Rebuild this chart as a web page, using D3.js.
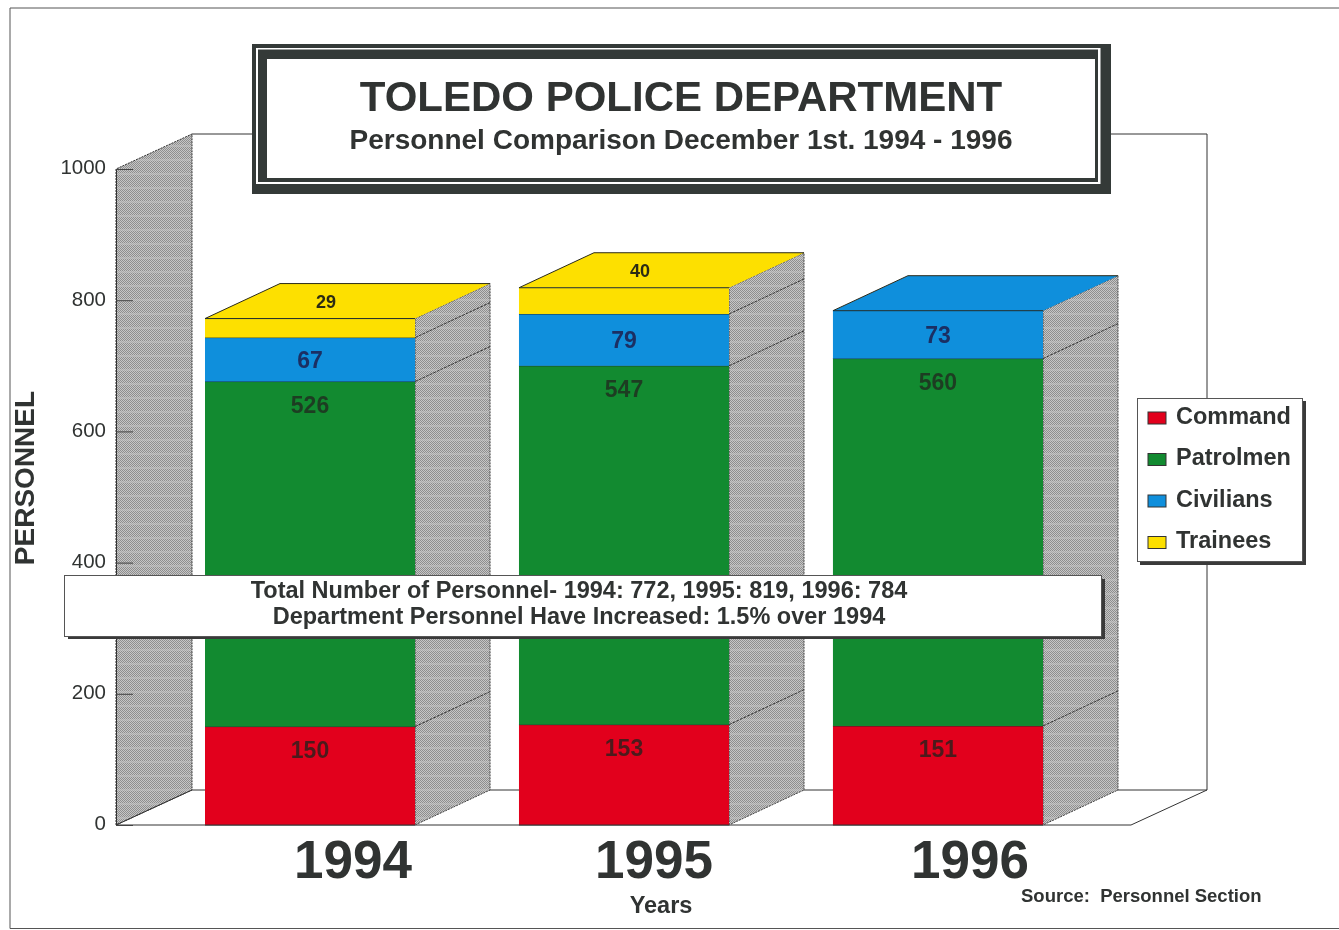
<!DOCTYPE html>
<html>
<head>
<meta charset="utf-8">
<title>Toledo Police Department</title>
<script src="https://cdn.jsdelivr.net/npm/d3@7/dist/d3.min.js"></script>
<style>
	html, body { margin: 0; padding: 0; background: #fff; }
	svg { display: block; filter: blur(0.5px); font-family: "Liberation Sans", Arial, sans-serif; }
	.bold { font-weight: bold; }
</style>
</head>
<body>
<div id="chart"></div>
<script>
const years = ["1994", "1995", "1996"];
const seriesNames = ["Command", "Patrolmen", "Civilians", "Trainees"];
const command = [150, 153, 151];
const patrolmen = [526, 547, 560];
const civilians = [67, 79, 73];
const trainees = [29, 40, 0];
const yTicks = [0, 200, 400, 600, 800, 1000];

const colors = {
	Command: "#e2001c",
	Patrolmen: "#128a30",
	Civilians: "#0f8fdc",
	Trainees: "#fde000",
};
const labelColors = {
	Command: "#4c1a1c",
	Patrolmen: "#1d3d22",
	Civilians: "#1b2f63",
	Trainees: "#2b2b14",
};
const ink = "#303332";

const width = 1339;
const height = 930;
const wallDepthX = 76;
const barDepthX = 75;
const depthY = -35;
// the big year labels sit right of the bars in the original
const yearOffsets = [43, 30, 32];

const svg = d3.select("#chart").append("svg").attr("width", width).attr("height", height);

const y = d3.scaleLinear().domain([0, 1000]).range([825, 169]);
const x = d3.scaleBand().domain(years).range([205, 1043]).paddingInner(0.331);
const legendY = d3.scalePoint().domain(seriesNames).range([416, 540.5]);

const valuesBySeries = { Command: command, Patrolmen: patrolmen, Civilians: civilians, Trainees: trainees };
const stack = d3.stack().keys(seriesNames).value((d, key) => valuesBySeries[key][years.indexOf(d)]);
const stacked = stack(years);

// halftone grey of the scan, with the faint horizontal banding
const defs = svg.append("defs");
const stipple = defs.append("pattern").attr("id", "stipple").attr("width", 2).attr("height", 14).attr("patternUnits", "userSpaceOnUse");
stipple.append("rect").attr("width", 2).attr("height", 14).attr("fill", "#c6c6c6");
d3.range(0, 14).forEach((row) => {
	stipple.append("rect")
		.attr("x", row % 2).attr("y", row).attr("width", 1).attr("height", 1)
		.attr("fill", row === 5 || row === 6 ? "#a8a8a8" : "#8e8e8e");
});

const poly = (pts) => "M" + pts.map((p) => p.join(",")).join("L") + "Z";
const line = (pts) => "M" + pts.map((p) => p.join(",")).join("L");

// page frame, the scan cuts off the right side
svg.append("path")
	.attr("d", line([[1339, 8], [10, 8], [10, 928.5], [1339, 928.5]]))
	.attr("fill", "none").attr("stroke", "#555").attr("stroke-width", 1);

// walls and floor
const wallLeft = 116;
const wallRight = 1131;
const y0 = y(0);
const yTop = y(1000);

svg.append("path")
	.attr("d", poly([[wallLeft, y0], [wallLeft, yTop], [wallLeft + wallDepthX, yTop + depthY], [wallLeft + wallDepthX, y0 + depthY]]))
	.attr("fill", "url(#stipple)")
	.attr("stroke", "#333").attr("stroke-dasharray", "2,1");

svg.append("path")
	.attr("d", line([[wallLeft + wallDepthX, yTop + depthY], [wallRight + wallDepthX, yTop + depthY], [wallRight + wallDepthX, y0 + depthY], [wallLeft + wallDepthX, y0 + depthY], [wallLeft, y0], [wallRight, y0], [wallRight + wallDepthX, y0 + depthY]]))
	.attr("fill", "none")
	.attr("stroke", "#333");

// y axis
const axis = d3.axisLeft(y).tickValues(yTicks).tickFormat(d3.format("d")).tickSizeInner(-17).tickSizeOuter(0).tickPadding(10);
const axisG = svg.append("g").attr("transform", `translate(${wallLeft},0)`).call(axis);
axisG.select(".domain").attr("stroke", "#333");
axisG.selectAll(".tick line").attr("stroke", "#444");
axisG.selectAll(".tick text")
	.attr("font-family", "Liberation Sans")
	.attr("font-size", 20.5)
	.attr("fill", ink)
	.attr("dy", "0.24em");

// bars
const w = x.bandwidth();
years.forEach((year, i) => {
	const g = svg.append("g").attr("class", "bar");
	const x0 = x(year);
	const segs = stacked.filter((s) => s[i][1] > s[i][0]);
	const last = segs[segs.length - 1];
	const top = y(last[i][1]);

	// side face
	g.append("path")
		.attr("d", poly([[x0 + w, y0], [x0 + w, top], [x0 + w + barDepthX, top + depthY], [x0 + w + barDepthX, y0 + depthY]]))
		.attr("fill", "url(#stipple)")
		.attr("stroke", "#444").attr("stroke-dasharray", "2,1");

	// top face
	g.append("path")
		.attr("d", poly([[x0, top], [x0 + barDepthX, top + depthY], [x0 + w + barDepthX, top + depthY], [x0 + w, top]]))
		.attr("fill", colors[last.key]);
	g.append("path")
		.attr("d", line([[x0, top], [x0 + barDepthX, top + depthY], [x0 + w + barDepthX, top + depthY]]))
		.attr("fill", "none")
		.attr("stroke", "#2a2a1a");

	segs.forEach((s) => {
		const yA = y(s[i][1]);
		const yB = y(s[i][0]);
		g.append("rect")
			.attr("x", x0).attr("y", yA).attr("width", w).attr("height", yB - yA)
			.attr("fill", colors[s.key]);
		g.append("path")
			.attr("d", line([[x0, yA], [x0 + w, yA]]))
			.attr("stroke", "#1c2a2a");
		if (s[i][0] > 0) {
			g.append("path")
				.attr("d", line([[x0 + w, yB], [x0 + w + barDepthX, yB + depthY]]))
				.attr("fill", "none")
				.attr("stroke", "#333").attr("stroke-dasharray", "3,1");
		}
	});
	g.append("path")
		.attr("d", line([[x0, y0], [x0 + w, y0]]))
		.attr("stroke", "#333");

	// value labels
	segs.forEach((s) => {
		const yA = y(s[i][1]);
		const yB = y(s[i][0]);
		const v = s[i][1] - s[i][0];
		let lx = x0 + w / 2;
		let ly;
		let size = 23;
		if (s.key === "Trainees") {
			lx = x0 + w / 2 + 16;
			ly = yA + depthY / 2;
			size = 18;
		} else if (s.key === "Civilians") {
			ly = (yA + yB) / 2;
		} else {
			ly = yA + 23;
		}
		g.append("text")
			.attr("class", "bold")
			.attr("x", lx).attr("y", ly)
			.attr("dy", "0.36em")
			.attr("text-anchor", "middle")
			.attr("font-size", size)
			.attr("fill", labelColors[s.key])
			.text(v);
	});

	// big year
	svg.append("text")
		.attr("class", "bold")
		.attr("x", x0 + w / 2 + yearOffsets[i]).attr("y", 878)
		.attr("text-anchor", "middle")
		.attr("font-size", 53)
		.attr("fill", ink)
		.text(year);
});

// title box
const titleBox = svg.append("g");
titleBox.append("rect").attr("x", 252).attr("y", 44).attr("width", 859).attr("height", 150).attr("fill", "#343a38");
titleBox.append("rect").attr("x", 256).attr("y", 48).attr("width", 844.5).attr("height", 136).attr("fill", "#fff");
titleBox.append("rect").attr("x", 258).attr("y", 49.5).attr("width", 840).attr("height", 132.5).attr("fill", "#343a38");
titleBox.append("rect").attr("x", 267).attr("y", 59).attr("width", 828).attr("height", 119).attr("fill", "#fff");
titleBox.append("text").attr("class", "bold")
	.attr("x", 681).attr("y", 111).attr("text-anchor", "middle")
	.attr("font-size", 42).attr("fill", ink)
	.text("TOLEDO POLICE DEPARTMENT");
titleBox.append("text").attr("class", "bold")
	.attr("x", 681).attr("y", 149).attr("text-anchor", "middle")
	.attr("font-size", 28).attr("fill", ink)
	.text("Personnel Comparison December 1st. 1994 - 1996");

// totals banner
const banner = svg.append("g");
banner.append("rect").attr("x", 68).attr("y", 579).attr("width", 1037).attr("height", 60).attr("fill", "#3a3a3a");
banner.append("rect").attr("x", 64.5).attr("y", 575.5).attr("width", 1037).attr("height", 61).attr("fill", "#fff").attr("stroke", "#555");
banner.append("text").attr("class", "bold")
	.attr("x", 579).attr("y", 598).attr("text-anchor", "middle")
	.attr("font-size", 23.5).attr("fill", ink)
	.text("Total Number of Personnel- 1994: 772, 1995: 819, 1996: 784");
banner.append("text").attr("class", "bold")
	.attr("x", 579).attr("y", 624).attr("text-anchor", "middle")
	.attr("font-size", 23.5).attr("fill", ink)
	.text("Department Personnel Have Increased: 1.5% over 1994");

// legend
const legend = svg.append("g");
legend.append("rect").attr("x", 1140).attr("y", 401).attr("width", 166).attr("height", 164).attr("fill", "#3a3a3a");
legend.append("rect").attr("x", 1137.5).attr("y", 398.5).attr("width", 165).attr("height", 163).attr("fill", "#fff").attr("stroke", "#555");
const legendRow = legend.selectAll(".row").data(seriesNames).join("g").attr("class", "row")
	.attr("transform", (d) => `translate(0,${legendY(d)})`);
legendRow.append("rect")
	.attr("x", 1148).attr("y", -4).attr("width", 18).attr("height", 12)
	.attr("fill", (d) => colors[d])
	.attr("stroke", "#333");
legendRow.append("text")
	.attr("class", "bold")
	.attr("x", 1176).attr("dy", "0.33em")
	.attr("font-size", 23.5)
	.attr("fill", ink)
	.text((d) => d);

// axis titles
svg.append("text").attr("class", "bold")
	.attr("transform", "translate(34,478) rotate(-90)")
	.attr("text-anchor", "middle")
	.attr("font-size", 28).attr("fill", ink)
	.text("PERSONNEL");
svg.append("text").attr("class", "bold")
	.attr("x", 661).attr("y", 913).attr("text-anchor", "middle")
	.attr("font-size", 23.5).attr("fill", ink)
	.text("Years");
svg.append("text").attr("class", "bold")
	.attr("x", 1021).attr("y", 902)
	.style("white-space", "pre")
	.attr("font-size", 18.5).attr("fill", ink)
	.text("Source:  Personnel Section");
</script>
</body>
</html>
